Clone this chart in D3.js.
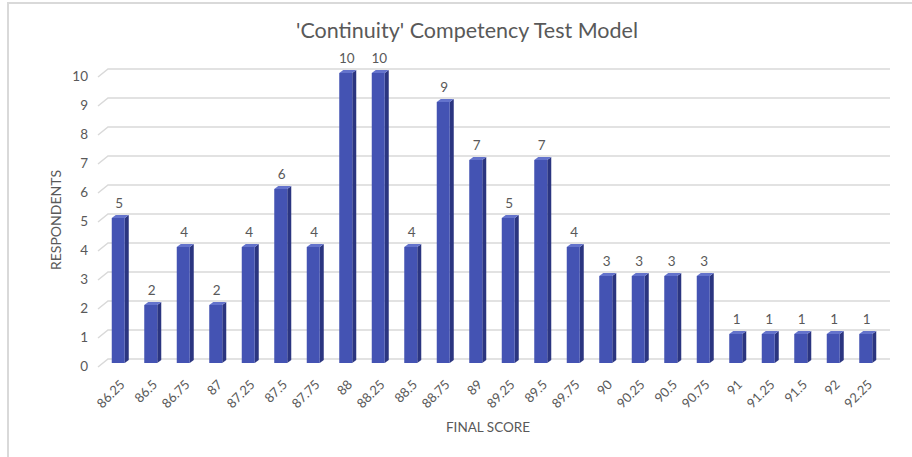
<!DOCTYPE html>
<html>
<head>
<meta charset="utf-8">
<script src="https://cdn.jsdelivr.net/npm/d3@7"></script>
<style>
  body { margin: 0; background: #fff; }
  svg { font-family: Lato, "Open Sans", sans-serif; }
</style>
</head>
<body>
<svg width="912" height="457"></svg>
<script>
var scores = ["86.25", "86.5", "86.75", "87", "87.25", "87.5", "87.75", "88", "88.25", "88.5",
  "88.75", "89", "89.25", "89.5", "89.75", "90", "90.25", "90.5", "90.75", "91",
  "91.25", "91.5", "92", "92.25"];
var respondents = [5, 2, 4, 2, 4, 6, 4, 10, 10, 4, 9, 7, 5, 7, 4, 3, 3, 3, 3, 1, 1, 1, 1, 1];
var yTicks = [0, 1, 2, 3, 4, 5, 6, 7, 8, 9, 10];

var title = "'Continuity' Competency Test Model";
var xTitle = "FINAL SCORE";
var yTitle = "RESPONDENTS";

const svg = d3.select("svg");
const textColor = "#595959";
const gridColor = "#d9d9d9";

// depth of the 3d wall, bars sit in the middle of it
const depthX = 10, depthY = 8;
const barDX = 4, barDY = 3;

const x = d3.scaleBand().domain(scores).range([102, 882]).paddingInner(0.6).paddingOuter(0.3);
const y = d3.scaleLinear().domain([0, 10]).range([363, 73]);

// outer frame
svg.append("rect")
  .attr("x", 8).attr("y", 3).attr("width", 1000).attr("height", 1000)
  .attr("fill", "none").attr("stroke", "#d9d9d9").attr("stroke-width", 2);

// title
svg.append("text")
  .attr("x", 467).attr("y", 38)
  .attr("text-anchor", "middle")
  .attr("font-size", 21.5)
  .attr("fill", textColor)
  .text(title);

// gridlines (back wall + left slant)
const grid = svg.append("g");
yTicks.forEach(function(t) {
  var yb = y(t) - depthY / 2, yf = y(t) + depthY / 2;
  grid.append("path")
    .attr("d", "M" + (108 - depthX) + "," + yf + "L108," + yb + "L890," + yb)
    .attr("fill", "none")
    .attr("stroke", gridColor)
    .attr("stroke-width", 1.5);
});

// y tick labels
svg.append("g").selectAll("text")
  .data(yTicks)
  .join("text")
  .attr("x", 88)
  .attr("y", (d) => y(d) + 3)
  .attr("dy", "0.35em")
  .attr("text-anchor", "end")
  .attr("font-size", 13.5)
  .attr("fill", textColor)
  .text((d) => d);

// bars
const bw = x.bandwidth();
const bars = svg.append("g").selectAll("g")
  .data(scores)
  .join("g");

bars.append("path") // side
  .attr("d", (d, i) => {
    var x1 = x(d) + bw, y0 = y(0), y1 = y(respondents[i]);
    return "M" + x1 + "," + y1 + "L" + (x1 + barDX) + "," + (y1 - barDY) +
      "L" + (x1 + barDX) + "," + (y0 - barDY) + "L" + x1 + "," + y0 + "Z";
  })
  .attr("fill", "#2b3580");

bars.append("path") // top
  .attr("d", (d, i) => {
    var x0 = x(d), y1 = y(respondents[i]);
    return "M" + x0 + "," + y1 + "L" + (x0 + barDX) + "," + (y1 - barDY) +
      "L" + (x0 + bw + barDX) + "," + (y1 - barDY) + "L" + (x0 + bw) + "," + y1 + "Z";
  })
  .attr("fill", "#6473cc");

bars.append("rect") // front
  .attr("x", (d) => x(d))
  .attr("y", (d, i) => y(respondents[i]))
  .attr("width", bw)
  .attr("height", (d, i) => y(0) - y(respondents[i]))
  .attr("fill", "#4453b3");

// value labels
svg.append("g").selectAll("text")
  .data(scores)
  .join("text")
  .attr("x", (d) => x(d) + bw / 2 + 1)
  .attr("y", (d, i) => y(respondents[i]) - 10)
  .attr("text-anchor", "middle")
  .attr("font-size", 13.5)
  .attr("fill", textColor)
  .text((d, i) => respondents[i]);

// x tick labels
svg.append("g").selectAll("text")
  .data(scores)
  .join("text")
  .attr("transform", (d) => "translate(" + (x(d) + bw / 2 + 1) + ",379) rotate(-45)")
  .attr("dy", "0.7em")
  .attr("text-anchor", "end")
  .attr("font-size", 13)
  .attr("fill", textColor)
  .text((d) => d);

// axis titles
svg.append("text")
  .attr("x", 488).attr("y", 432)
  .attr("text-anchor", "middle")
  .attr("font-size", 13.5)
  .attr("fill", textColor)
  .text(xTitle);

svg.append("text")
  .attr("transform", "translate(61,220) rotate(-90)")
  .attr("text-anchor", "middle")
  .attr("font-size", 14)
  .attr("fill", textColor)
  .text(yTitle);
</script>
</body>
</html>
